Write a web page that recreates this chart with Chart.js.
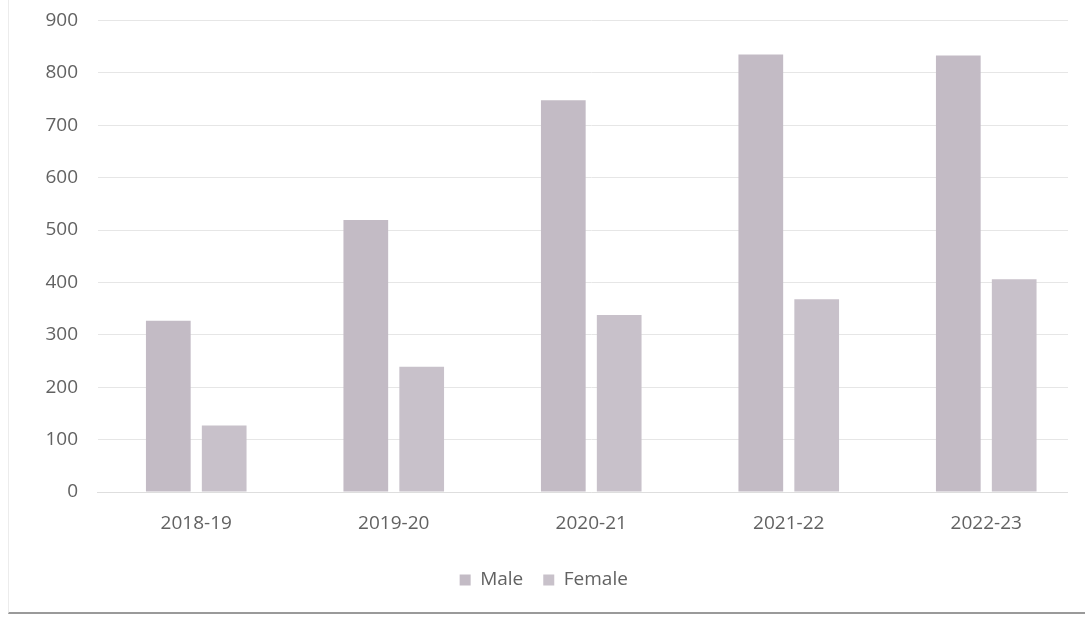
<!DOCTYPE html>
<html>
<head>
<meta charset="utf-8">
<script src="https://cdn.jsdelivr.net/npm/chart.js@4/dist/chart.umd.min.js"></script>
<style>
  html, body { margin: 0; padding: 0; background: #ffffff; }
  #wrap { position: relative; width: 1085px; height: 618px; overflow: hidden; }
  #frame { position: absolute; left: 8px; top: 0px; width: 1085px; height: 614px; border-left: 1px solid #ececec; border-bottom: 2px solid #9a9a9a; box-sizing: border-box; pointer-events: none; }
  #edge { position: absolute; left: 1068px; top: 0; width: 17px; height: 500px; background: #ffffff; pointer-events: none; }
</style>
</head>
<body>
<div id="wrap">
  <canvas id="c" width="1085" height="618"></canvas>
  <div id="edge"></div>
  <div id="frame"></div>
</div>
<script>
const categories = ["2018-19", "2019-20", "2020-21", "2021-22", "2022-23"];
const maleValues = [327, 519, 748, 835, 833];
const femaleValues = [127, 239, 338, 368, 406];
const yTicks = [0, 100, 200, 300, 400, 500, 600, 700, 800, 900];

const textColor = "#626262";
const font = { family: "'Open Sans', 'Liberation Sans', sans-serif", size: 19 };

function zeroPad(s) { s.paddingTop = 0; s.paddingBottom = 0; s.paddingLeft = 0; s.paddingRight = 0; }

new Chart(document.getElementById("c"), {
  type: "bar",
  data: {
    labels: categories,
    datasets: [
      { label: "Male", data: maleValues, backgroundColor: "#c3bbc5", borderWidth: 0 },
      { label: "Female", data: femaleValues, backgroundColor: "#c8c1ca", borderWidth: 0 }
    ]
  },
  options: {
    responsive: false,
    animation: false,
    layout: { padding: { left: 0, right: -2.5, top: 20.5, bottom: 18.5 } },
    datasets: { bar: { categoryPercentage: 0.566, barPercentage: 0.80 } },
    scales: {
      y: {
        min: 0, max: 900,
        afterBuildTicks: s => { s.ticks = yTicks.map(v => ({ value: v })); },
        afterFit: s => { s.width = 97.5; zeroPad(s); },
        border: { display: false },
        grid: { color: "#e6e6e6", drawTicks: false, lineWidth: 1 },
        ticks: { color: textColor, font: font, padding: 19.5 }
      },
      x: {
        afterFit: s => { s.height = 58.5; zeroPad(s); },
        border: { display: true, color: "#dedede" },
        grid: { display: false },
        ticks: { color: textColor, font: font, padding: 12 }
      }
    },
    plugins: {
      legend: {
        position: "bottom",
        labels: { color: textColor, font: font, boxWidth: 11, boxHeight: 11, padding: 20 }
      },
      tooltip: { enabled: false }
    }
  }
});
</script>
</body>
</html>
